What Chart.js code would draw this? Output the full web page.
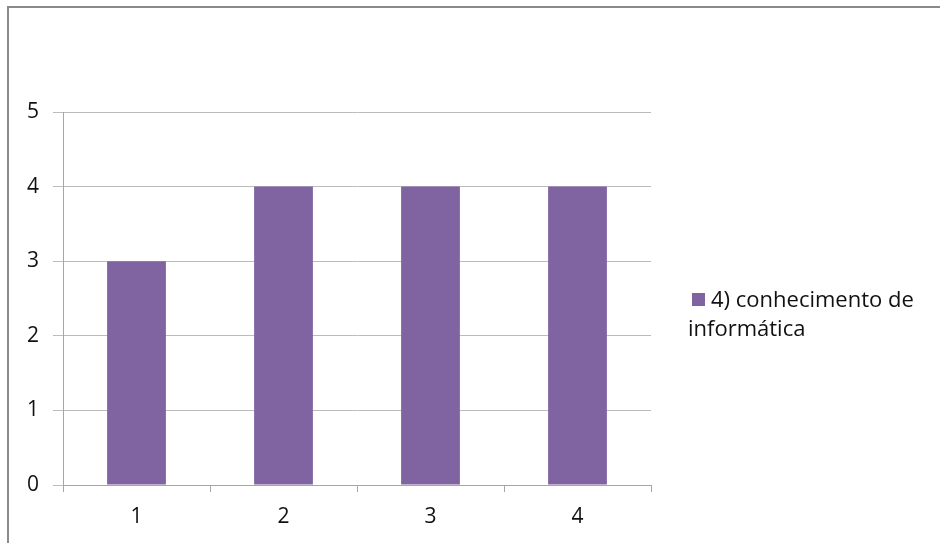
<!DOCTYPE html>
<html>
<head>
<meta charset="utf-8">
<script src="https://cdn.jsdelivr.net/npm/chart.js@4/dist/chart.umd.min.js"></script>
<style>
  html, body { margin: 0; padding: 0; background: #fff; }
  #wrap { width: 940px; height: 543px; position: relative; }
</style>
</head>
<body>
<div id="wrap"><canvas id="chart" width="940" height="543"></canvas></div>
<script>
// Single-series column chart, Excel-style frame with the legend on the right.
const categories = ['1', '2', '3', '4'];
const values = [3, 4, 4, 4];
const yMin = 0, yMax = 5, yStep = 1;
const seriesLabel = '4) conhecimento de informática';
const legendLines = ['4) conhecimento de', 'informática'];

const FONT = "'Open Sans', 'Liberation Sans', sans-serif";
const BAR = '#8064A2';
const GRID = '#bcbcbc';
const AXIS = '#a6a6a6';
const TEXT = '#111';

// outer frame: only the top and left edges show
const framePlugin = {
  id: 'frame',
  beforeDraw(chart) {
    const { ctx } = chart;
    ctx.save();
    ctx.strokeStyle = '#8a8a8a';
    ctx.lineWidth = 2;
    ctx.beginPath();
    ctx.moveTo(8, 543);
    ctx.lineTo(8, 7);
    ctx.lineTo(940, 7);
    ctx.stroke();
    ctx.restore();
  }
};

// legend box: square marker and wrapped label
const sideLegend = {
  id: 'sideLegend',
  afterDraw(chart) {
    const { ctx } = chart;
    const ds = chart.data.datasets[0];
    ctx.save();
    ctx.fillStyle = ds.backgroundColor;
    ctx.fillRect(692, 293, 13, 13);
    ctx.fillStyle = TEXT;
    ctx.font = '22px ' + FONT;
    ctx.textBaseline = 'alphabetic';
    ctx.fillText(legendLines[0], 711, 307);
    ctx.fillText(legendLines[1], 688, 336);
    ctx.restore();
  }
};

new Chart(document.getElementById('chart'), {
  type: 'bar',
  data: {
    labels: categories,
    datasets: [{
      label: seriesLabel,
      data: values,
      backgroundColor: BAR,
      borderWidth: 0,
      categoryPercentage: 1,
      barPercentage: 0.4
    }]
  },
  options: {
    responsive: false,
    animation: false,
    events: [],
    layout: { padding: { left: 0, right: 289, top: 112, bottom: 0 } },
    plugins: { legend: { display: false }, tooltip: { enabled: false } },
    scales: {
      x: {
        grid: { offset: true, drawOnChartArea: false, drawTicks: true, tickLength: 7, color: AXIS, tickColor: AXIS },
        border: { color: AXIS, width: 1 },
        ticks: { color: TEXT, font: { family: FONT, size: 21 }, padding: 12 },
        afterFit(s) { s.height = 58; }
      },
      y: {
        min: yMin, max: yMax,
        grid: { color: GRID, tickColor: GRID, tickLength: 10, drawTicks: true },
        border: { color: AXIS, width: 1 },
        ticks: { stepSize: yStep, color: TEXT, font: { family: FONT, size: 21 }, padding: 14 },
        afterFit(s) { s.width = 63; }
      }
    }
  },
  plugins: [framePlugin, sideLegend]
});
</script>
</body>
</html>
